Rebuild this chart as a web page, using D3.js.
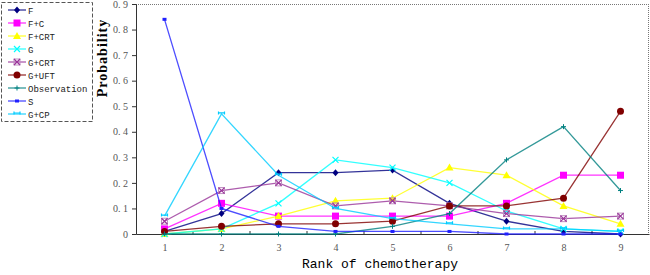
<!DOCTYPE html>
<html><head><meta charset="utf-8">
<script src="https://cdn.jsdelivr.net/npm/d3@7"></script>
<style>body{margin:0;background:#fff}svg{display:block}</style>
</head><body><svg id="c" width="650" height="275"></svg>
<script>
const ranks = [1,2,3,4,5,6,7,8,9];
const yTicks = [0,0.1,0.2,0.3,0.4,0.5,0.6,0.7,0.8,0.9];
const seriesNames = ["F","F+C","F+CRT","G","G+CRT","G+UFT","Observation","S","G+CP"];
const F       = [0.01,0.08,0.24,0.24,0.25,0.12,0.05,0.01,0.00];
const FC      = [0.02,0.12,0.07,0.07,0.07,0.07,0.12,0.23,0.23];
const FCRT    = [0.00,0.02,0.07,0.13,0.14,0.26,0.23,0.11,0.04];
const G       = [0.00,0.02,0.12,0.29,0.26,0.20,0.09,0.02,0.01];
const GCRT    = [0.05,0.17,0.20,0.11,0.13,0.11,0.08,0.06,0.07];
const GUFT    = [0.01,0.03,0.04,0.04,0.05,0.11,0.11,0.14,0.48];
const Obs     = [0.00,0.00,0.00,0.00,0.03,0.08,0.29,0.42,0.17];
const S       = [0.84,0.10,0.03,0.01,0.01,0.01,0.00,0.00,0.00];
const GCP     = [0.07,0.47,0.23,0.10,0.06,0.04,0.02,0.02,0.01];
const seriesValues = [F,FC,FCRT,G,GCRT,GUFT,Obs,S,GCP];
const colors = ["#000080","#ff00ff","#ffff00","#00ffff","#993399","#800000","#008080","#2020ff","#00ccff"];
const markers = ["diamond","square","triangle","x","xsquare","circle","plus","dash","cp"];

const svg = d3.select("#c");
const L=136, R=649, T=4, B=234;
const x = d3.scaleLinear().domain([0.5,9.5]).range([L,R]);
const y = d3.scaleLinear().domain([0,0.9]).range([B,T]);

// frame: top dotted, right dotted
svg.append("line").attr("x1",L).attr("x2",R).attr("y1",T+0.5).attr("y2",T+0.5)
  .attr("stroke","#777").attr("stroke-dasharray","1,1");
svg.append("line").attr("x1",R-0.5).attr("x2",R-0.5).attr("y1",T).attr("y2",B)
  .attr("stroke","#777").attr("stroke-dasharray","1,1");

// y axis
const yAx = svg.append("g").attr("transform",`translate(${L},0)`)
  .call(d3.axisLeft(y).tickValues(yTicks).tickSize(4).tickPadding(4)
    .tickFormat(d=> d===0 ? "0" : d3.format(".1f")(d).replace(".", ". ")));
yAx.select(".domain").attr("stroke","#333");
yAx.selectAll(".tick line").attr("stroke","#333");
yAx.selectAll("text").attr("font-family","'Liberation Serif', serif").attr("font-size",10).attr("fill","#555");

// x axis
const xAx = svg.append("g").attr("transform",`translate(0,${B})`)
  .call(d3.axisBottom(x).tickValues(ranks).tickSize(0).tickPadding(10).tickFormat(d3.format("d")));
xAx.select(".domain").attr("stroke","#333");
xAx.selectAll("text").attr("font-family","'Liberation Serif', serif").attr("font-size",10).attr("fill","#555");
// minor inward ticks between ranks
svg.append("g").selectAll("line").data(d3.range(1.5,9.5,1)).join("line")
  .attr("x1",d=>x(d)).attr("x2",d=>x(d)).attr("y1",B).attr("y2",B-3).attr("stroke","#333");

// titles
svg.append("text").attr("x",380).attr("y",268).attr("text-anchor","middle")
  .attr("font-family","'Liberation Mono', monospace").attr("font-size",13).attr("fill","#000")
  .text("Rank of chemotherapy");
svg.append("text").attr("transform","translate(107,58) rotate(-90)").attr("text-anchor","middle")
  .attr("font-family","'Liberation Serif', serif").attr("font-weight","bold").attr("font-size",14)
  .attr("letter-spacing",1).text("Probability");

function drawMarker(g, type, cx, cy, color){
  const s = g.append("g").attr("transform",`translate(${cx},${cy})`);
  switch(type){
    case "diamond": s.append("path").attr("d","M0,-3.5L3,0L0,3.5L-3,0Z").attr("fill",color); break;
    case "square": s.append("rect").attr("x",-3.5).attr("y",-3.5).attr("width",7).attr("height",7).attr("fill",color); break;
    case "triangle": s.append("path").attr("d","M0,-4L4,3L-4,3Z").attr("fill",color); break;
    case "x": s.append("path").attr("d","M-3,-3L3,3M-3,3L3,-3").attr("stroke",color).attr("stroke-width",1.2); break;
    case "xsquare":
      s.append("rect").attr("x",-3).attr("y",-3).attr("width",6).attr("height",6).attr("fill","none").attr("stroke","#c090c0");
      s.append("path").attr("d","M-3,-3L3,3M-3,3L3,-3").attr("stroke",color).attr("stroke-width",1.2); break;
    case "circle": s.append("circle").attr("r",3.5).attr("fill",color); break;
    case "plus": s.append("path").attr("d","M-2.5,0L2.5,0M0,-2.5L0,2.5").attr("stroke",color).attr("stroke-width",1); break;
    case "dash": s.append("rect").attr("x",-2).attr("y",-1.5).attr("width",4).attr("height",3).attr("fill",color); break;
    case "cp": s.append("path").attr("d","M-3,-1L3,-1M-3,-2.5L-3,0.5M3,-2.5L3,0.5").attr("stroke",color).attr("stroke-width",1.2); break;
  }
}

const line = d3.line().x((d,i)=>x(ranks[i])).y(d=>y(d));
seriesValues.forEach((vals,k)=>{
  const g = svg.append("g");
  g.append("path").datum(vals).attr("d",line).attr("fill","none")
    .attr("stroke",colors[k]).attr("stroke-width",1.3).attr("stroke-opacity",0.8);
  vals.forEach((v,i)=>drawMarker(g, markers[k], x(ranks[i]), y(v), colors[k]));
});

// legend
svg.append("rect").attr("x",1.5).attr("y",2.5).attr("width",91).attr("height",119)
  .attr("fill","#fff").attr("stroke","#555").attr("stroke-dasharray","4,2");
seriesNames.forEach((n,k)=>{
  const ly = 10 + k*13;
  const g = svg.append("g");
  g.append("line").attr("x1",8).attr("x2",26).attr("y1",ly).attr("y2",ly)
    .attr("stroke",colors[k]).attr("stroke-width",1.3).attr("stroke-opacity",0.8);
  drawMarker(g, markers[k], 17, ly, colors[k]);
  g.append("text").attr("x",28).attr("y",ly+3.5).attr("font-family","'Liberation Mono', monospace")
    .attr("font-size",9).attr("fill","#222").text(n);
});
</script></body></html>
